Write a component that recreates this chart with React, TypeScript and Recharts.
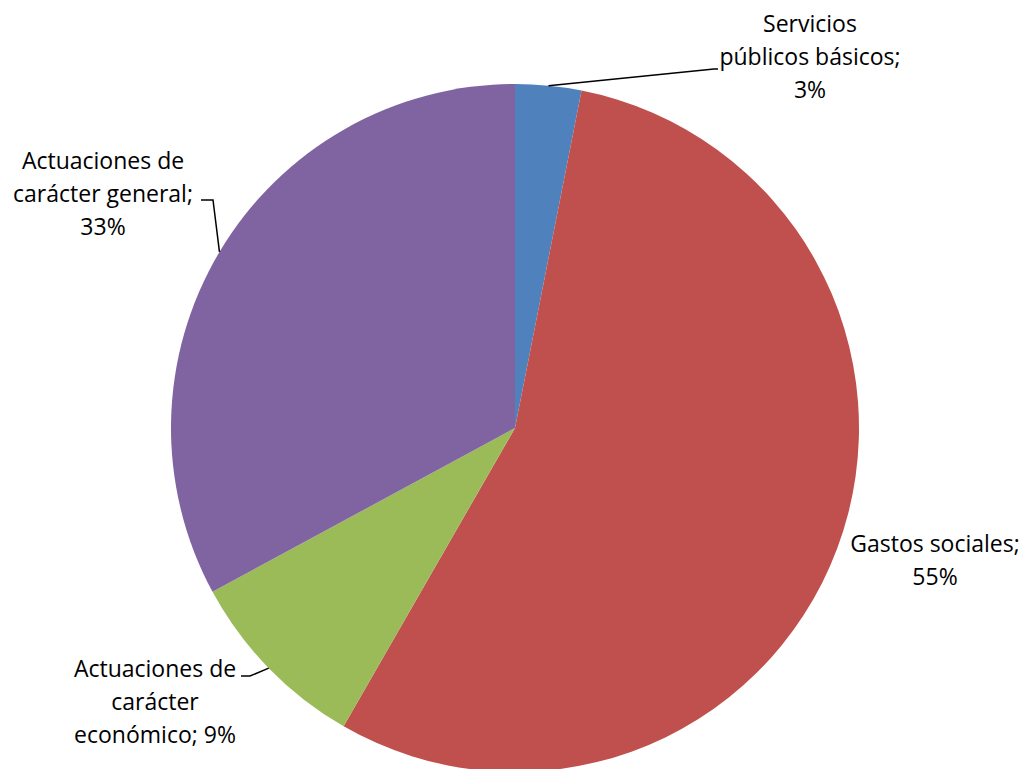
import { PieChart, Pie, Cell } from 'recharts';

const categories = [
  'Servicios públicos básicos',
  'Gastos sociales',
  'Actuaciones de carácter económico',
  'Actuaciones de carácter general',
];
const values = [3.1, 55.2, 8.8, 32.9];
const colors = ['#4F81BD', '#C0504D', '#9BBB59', '#8064A2'];

// label text lines, {p} is replaced by the rounded percentage
const labelLines = [
  ['Servicios', 'públicos básicos;', '{p}%'],
  ['Gastos sociales;', '{p}%'],
  ['Actuaciones de', 'carácter', 'económico; {p}%'],
  ['Actuaciones de', 'carácter general;', '{p}%'],
];

// label placement relative to pie centre: text centre x, first line y, leader elbow
const labelLayout = [
  { dx: 295, dy: -405, elbow: [199, -359], end: [203, -359] },
  { dx: 420, dy: 115, elbow: null, end: null },
  { dx: -360, dy: 240, elbow: [-265, 248], end: [-274, 248] },
  { dx: -412, dy: -268, elbow: [-302, -228], end: [-314, -228] },
];

const data = categories.map((name, i) => ({ name, value: values[i] }));
const RADIAN = Math.PI / 180;
const LINE_H = 33;

function renderLabel(props: any) {
  const { cx, cy, midAngle, outerRadius, percent, index } = props;
  const lay = labelLayout[index];
  const p = Math.round(percent * 100);
  const sx = cx + outerRadius * Math.cos(-midAngle * RADIAN);
  const sy = cy + outerRadius * Math.sin(-midAngle * RADIAN);
  return (
    <g key={`lbl-${index}`}>
      {lay.elbow && lay.end && (
        <polyline
          points={`${sx},${sy} ${cx + lay.elbow[0]},${cy + lay.elbow[1]} ${cx + lay.end[0]},${cy + lay.end[1]}`}
          fill="none"
          stroke="#000"
          strokeWidth={1.5}
        />
      )}
      <text
        x={cx + lay.dx}
        y={cy + lay.dy}
        textAnchor="middle"
        dominantBaseline="central"
        fill="#000"
        style={{ fontFamily: '"Open Sans", sans-serif', fontSize: 23 }}
      >
        {labelLines[index].map((l, j) => (
          <tspan key={j} x={cx + lay.dx} dy={j === 0 ? 0 : LINE_H}>
            {l.replace('{p}', String(p))}
          </tspan>
        ))}
      </text>
    </g>
  );
}

export default function App() {
  return (
    <div style={{ position: 'absolute', left: 0, top: 0, background: '#fff' }}>
      <PieChart width={1022} height={769} margin={{ top: 0, right: 0, bottom: 0, left: 0 }}>
        <Pie
          data={data}
          dataKey="value"
          nameKey="name"
          cx={515}
          cy={428}
          outerRadius={344}
          startAngle={90}
          endAngle={-270}
          stroke="none"
          label={renderLabel}
          labelLine={false}
          isAnimationActive={false}
        >
          {data.map((d, i) => (
            <Cell key={d.name} fill={colors[i]} />
          ))}
        </Pie>
      </PieChart>
    </div>
  );
}
